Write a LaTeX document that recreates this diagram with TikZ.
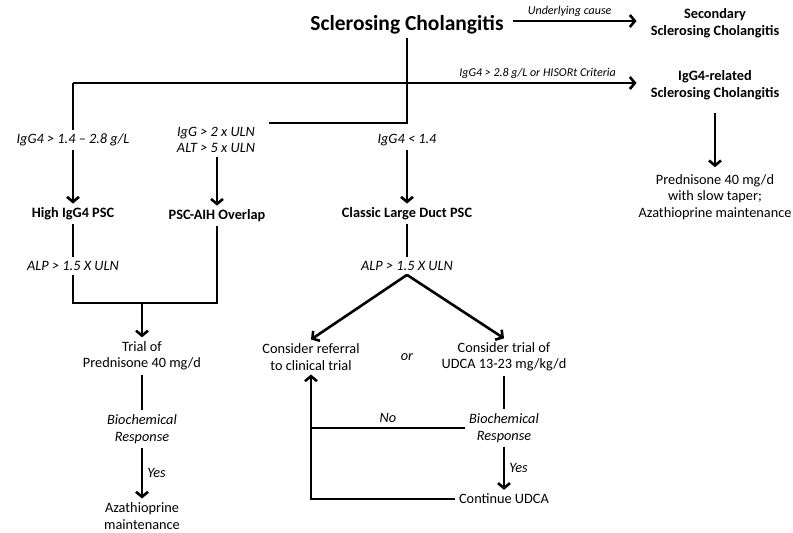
\documentclass[tikz,border=0pt]{standalone}
\usepackage{fontspec}
\setmainfont{Carlito}
\usepackage{tikz}
\usetikzlibrary{arrows.meta}
\newcommand{\tnode}[3]{\node(#1)[item] at (#2){#3}}
\newcommand{\bnode}[3]{\node(#1)[bolditem] at (#2){#3}}
\newcommand{\cnode}[3]{\node(#1)[cond] at (#2){#3}}

\begin{document}
\begin{tikzpicture}[
        x=1pt, y=-1pt,
        every node/.style={inner sep=4pt, align=center},
        item/.style={font=\fontsize{14.3}{16.5}\selectfont},
        bolditem/.style={font=\fontsize{14.3}{16.5}\selectfont\bfseries},
        cond/.style={font=\fontsize{14.3}{16.5}\selectfont\itshape},
        note/.style={font=\fontsize{12}{14}\selectfont\itshape, inner sep=2pt},
        head/.style={font=\fontsize{21.5}{24}\selectfont\bfseries, inner sep=3pt},
        conn/.style={line width=2.6pt},
        arr/.style={conn, -{Straight Barb[length=5pt,width=12pt]}}
      ]
      \useasboundingbox (0,0) rectangle (793,533);
      \node(head)[head] at (407,25) {Sclerosing Cholangitis};
      \bnode{second}{715,23}{Secondary\\Sclerosing Cholangitis};
      \bnode{igrel}{715,85}{IgG4-related\\Sclerosing Cholangitis};
      \tnode{pred}{715,197}{Prednisone 40 mg/d\\with slow taper;\\Azathioprine maintenance};
      \cnode{crit1}{73,140}{IgG4 > 1.4 – 2.8 g/L};
      \cnode{crit2}{216,140}{IgG > 2 x ULN\\ALT > 5 x ULN};
      \cnode{crit3}{407,140}{IgG4 < 1.4};
      \bnode{high}{73,214}{High IgG4 PSC};
      \bnode{aih}{217,216}{PSC-AIH Overlap};
      \bnode{classic}{407,214}{Classic Large Duct PSC};
      \cnode{alp1}{73,266}{ALP > 1.5 X ULN};
      \cnode{alp2}{407,266}{ALP > 1.5 X ULN};
      \tnode{trial}{142,356}{Trial of\\Prednisone 40 mg/d};
      \cnode{bio1}{142,429}{Biochemical\\Response};
      \tnode{aza}{142,516}{Azathioprine\\maintenance};
      \tnode{refer}{311,357}{Consider referral\\to clinical trial};
      \cnode{ortxt}{407,357}{or};
      \tnode{udca}{504,357}{Consider trial of\\UDCA 13-23 mg/kg/d};
      \cnode{bio2}{504,428}{Biochemical\\Response};
      \tnode{cont}{504,499}{Continue UDCA};

      \coordinate (jr) at (407,123);
      \coordinate (je) at (269,123);
      \coordinate (jl) at (73,83);
      \coordinate (jm) at (142,303);

      \draw[conn] (head.south) -- (jr) -- (je);
      \draw[arr, shorten <=6pt, shorten >=10pt] ([yshift=4pt]head.east) -- ([yshift=4pt]head.east -| second.west)
        node[note, pos=0.45, above=1pt] {Underlying cause};
      \draw[arr, shorten >=10pt] (jl) -- (jl -| igrel.west)
        node[note, pos=0.81, above=1pt] {IgG4 > 2.8 g/L or HISORt Criteria};
      \draw[conn] (jl) -- (crit1.north);
      \draw[arr, shorten <=9pt, shorten >=3pt] (igrel.south) -- (pred.north);
      \draw[arr] (crit1.south) -- (high.north);
      \draw[conn] (high.south) -- (alp1.north);
      \draw[arr] (crit2.south -| aih) -- (aih.north);
      \draw[arr] (crit3.south) -- (classic.north);
      \draw[conn] (classic.south) -- (alp2.north);
      \draw[conn] (alp1.south) |- (jm) -| (aih.south);
      \draw[arr] (jm) -- (trial.north);
      \draw[conn] (trial.south) -- (bio1.north);
      \draw[arr] (bio1.south) -- (aza.north) node[cond, midway, right] {Yes};
      \draw[arr] (alp2.south) -- (refer.north);
      \draw[arr] (alp2.south) -- (udca.north);
      \draw[conn] (udca.south) -- (bio2.north);
      \draw[arr] (bio2.south) -- (cont.north) node[cond, midway, right] {Yes};
      \draw[conn] (bio2.west) -- (bio2.west -| refer.south) node[cond, midway, above] {No};
      \draw[arr] (cont.west) -| (refer.south);
    \end{tikzpicture}
\end{document}
